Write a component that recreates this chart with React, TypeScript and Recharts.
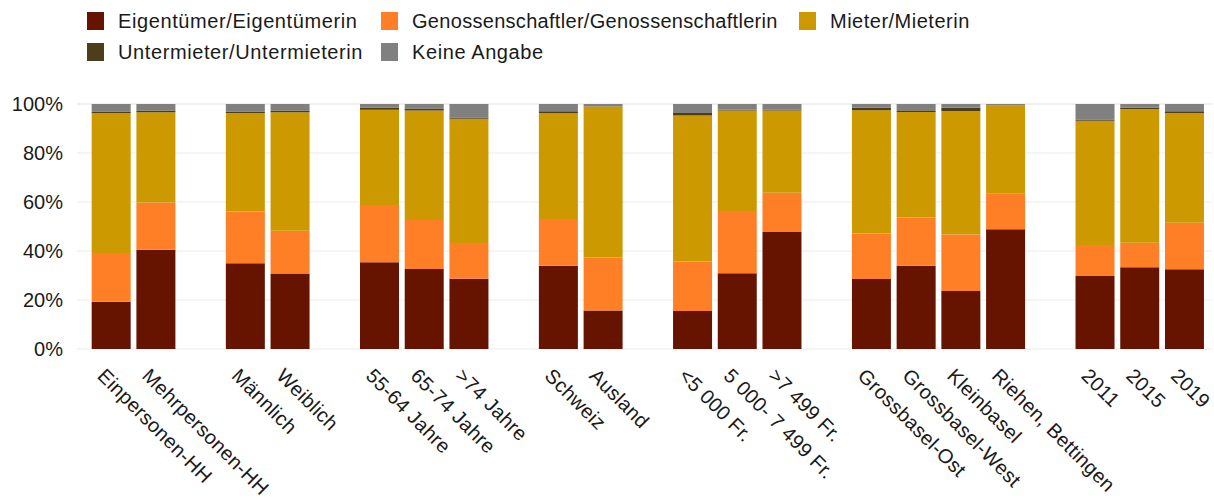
import { BarChart, Bar, XAxis, YAxis, CartesianGrid, Legend } from "recharts";

// gaps between groups are empty categories
const categories = [
  "Einpersonen-HH", "Mehrpersonen-HH", "",
  "Männlich", "Weiblich", "",
  "55-64 Jahre", "65-74 Jahre", ">74 Jahre", "",
  "Schweiz", "Ausland", "",
  "<5 000 Fr.", "5 000- 7 499 Fr.", ">7 499 Fr.", "",
  "Grossbasel-Ost", "Grossbasel-West", "Kleinbasel", "Riehen, Bettingen", "",
  "2011", "2015", "2019",
];

const eigentuemer = [19.3, 40.5, null, 35.0, 30.8, null, 35.4, 32.7, 28.7, null, 34.0, 15.7, null, 15.5, 30.9, 47.8, null, 28.6, 34.0, 23.7, 48.9, null, 29.8, 33.4, 32.6];
const genossenschaftler = [19.9, 19.3, null, 21.1, 17.5, null, 23.4, 20.0, 14.6, null, 19.1, 21.6, null, 20.2, 25.4, 16.0, null, 18.5, 19.7, 23.0, 14.7, null, 12.6, 10.0, 18.9];
const mieter = [57.1, 36.8, null, 40.2, 48.3, null, 38.9, 44.6, 50.7, null, 43.1, 61.7, null, 59.6, 41.0, 33.5, null, 50.3, 43.0, 50.4, 35.8, null, 50.8, 54.6, 44.8];
const untermieter = [0.6, 0.7, null, 0.6, 0.7, null, 0.8, 0.9, 0.5, null, 0.8, 0.1, null, 1.0, 0.4, 0.5, null, 1.1, 0.4, 1.4, 0.1, null, 0.5, 0.5, 0.7];
const keineAngabe = [3.1, 2.7, null, 3.1, 2.7, null, 1.5, 1.8, 5.5, null, 3.0, 0.9, null, 3.7, 2.3, 2.2, null, 1.5, 2.9, 1.5, 0.5, null, 6.3, 1.5, 3.0];

const yTicks = [0, 20, 40, 60, 80, 100];

const series = [
  { key: "eig", name: "Eigentümer/Eigentümerin", color: "#661400" },
  { key: "gen", name: "Genossenschaftler/Genossenschaftlerin", color: "#FF7F27" },
  { key: "mie", name: "Mieter/Mieterin", color: "#CC9900" },
  { key: "unt", name: "Untermieter/Untermieterin", color: "#4D3D1A" },
  { key: "kei", name: "Keine Angabe", color: "#808080" },
];

const data = categories.map((label, i) => ({
  label,
  eig: eigentuemer[i],
  gen: genossenschaftler[i],
  mie: mieter[i],
  unt: untermieter[i],
  kei: keineAngabe[i],
}));

const FONT = "'Liberation Sans', Arial, sans-serif";

// legend columns/rows as in the original
const legendPos: Record<string, { x: number; y: number; ls: number }> = {
  eig: { x: 87, y: 12, ls: 0.6 },
  gen: { x: 381, y: 12, ls: 0.3 },
  mie: { x: 799, y: 12, ls: 0.5 },
  unt: { x: 87, y: 43, ls: 0.6 },
  kei: { x: 381, y: 43, ls: 0.6 },
};

function LegendContent() {
  return (
    <div style={{ position: "relative", width: 1214, height: 70, fontFamily: FONT, fontSize: 20, color: "#1a1a1a" }}>
      {series.map((s) => (
        <div
          key={s.key}
          style={{
            position: "absolute",
            left: legendPos[s.key].x,
            top: legendPos[s.key].y,
            height: 18,
            display: "flex",
            alignItems: "center",
            whiteSpace: "nowrap",
            letterSpacing: legendPos[s.key].ls,
          }}
        >
          <span style={{ display: "inline-block", width: 17, height: 18, background: s.color, marginRight: 14 }} />
          <span>{s.name}</span>
        </div>
      ))}
    </div>
  );
}

function XTick(props: any) {
  const { x, y, payload } = props;
  if (!payload.value) return null;
  return (
    <text
      transform={`translate(${x - 15},${y + 28}) rotate(45)`}
      textAnchor="start"
      fontSize={20}
      letterSpacing={0.3}
      fontFamily={FONT}
      fill="#1a1a1a"
    >
      {payload.value}
    </text>
  );
}

export default function App() {
  return (
    <div style={{ position: "absolute", left: 0, top: 0, width: 1214, height: 500, background: "#fff" }}>
      <BarChart
        width={1214}
        height={500}
        data={data}
        margin={{ top: 104, right: 2, bottom: 0, left: 0 }}
        barCategoryGap="6%"
      >
        <CartesianGrid vertical={false} stroke="#ebebeb" strokeWidth={1} />
        <XAxis
          dataKey="label"
          interval={0}
          height={151}
          axisLine={false}
          tickLine={false}
          tickSize={0}
          tickMargin={0}
          padding={{ left: 12, right: 5 }}
          tick={<XTick />}
        />
        <YAxis
          domain={[0, 100]}
          ticks={yTicks}
          width={77}
          axisLine={false}
          tickLine={false}
          tickSize={0}
          tickMargin={14}
          tickFormatter={(v: number) => `${v}%`}
          tick={{ fontSize: 20, fontFamily: FONT, fill: "#1a1a1a" }}
        />
        <Legend
          verticalAlign="middle"
          align="center"
          layout="horizontal"
          content={<LegendContent />}
          wrapperStyle={{ top: 0, left: 0, width: 1214, height: 70 }}
        />
        {series.map((s) => (
          <Bar key={s.key} dataKey={s.key} name={s.name} stackId="a" fill={s.color} isAnimationActive={false} />
        ))}
      </BarChart>
    </div>
  );
}
